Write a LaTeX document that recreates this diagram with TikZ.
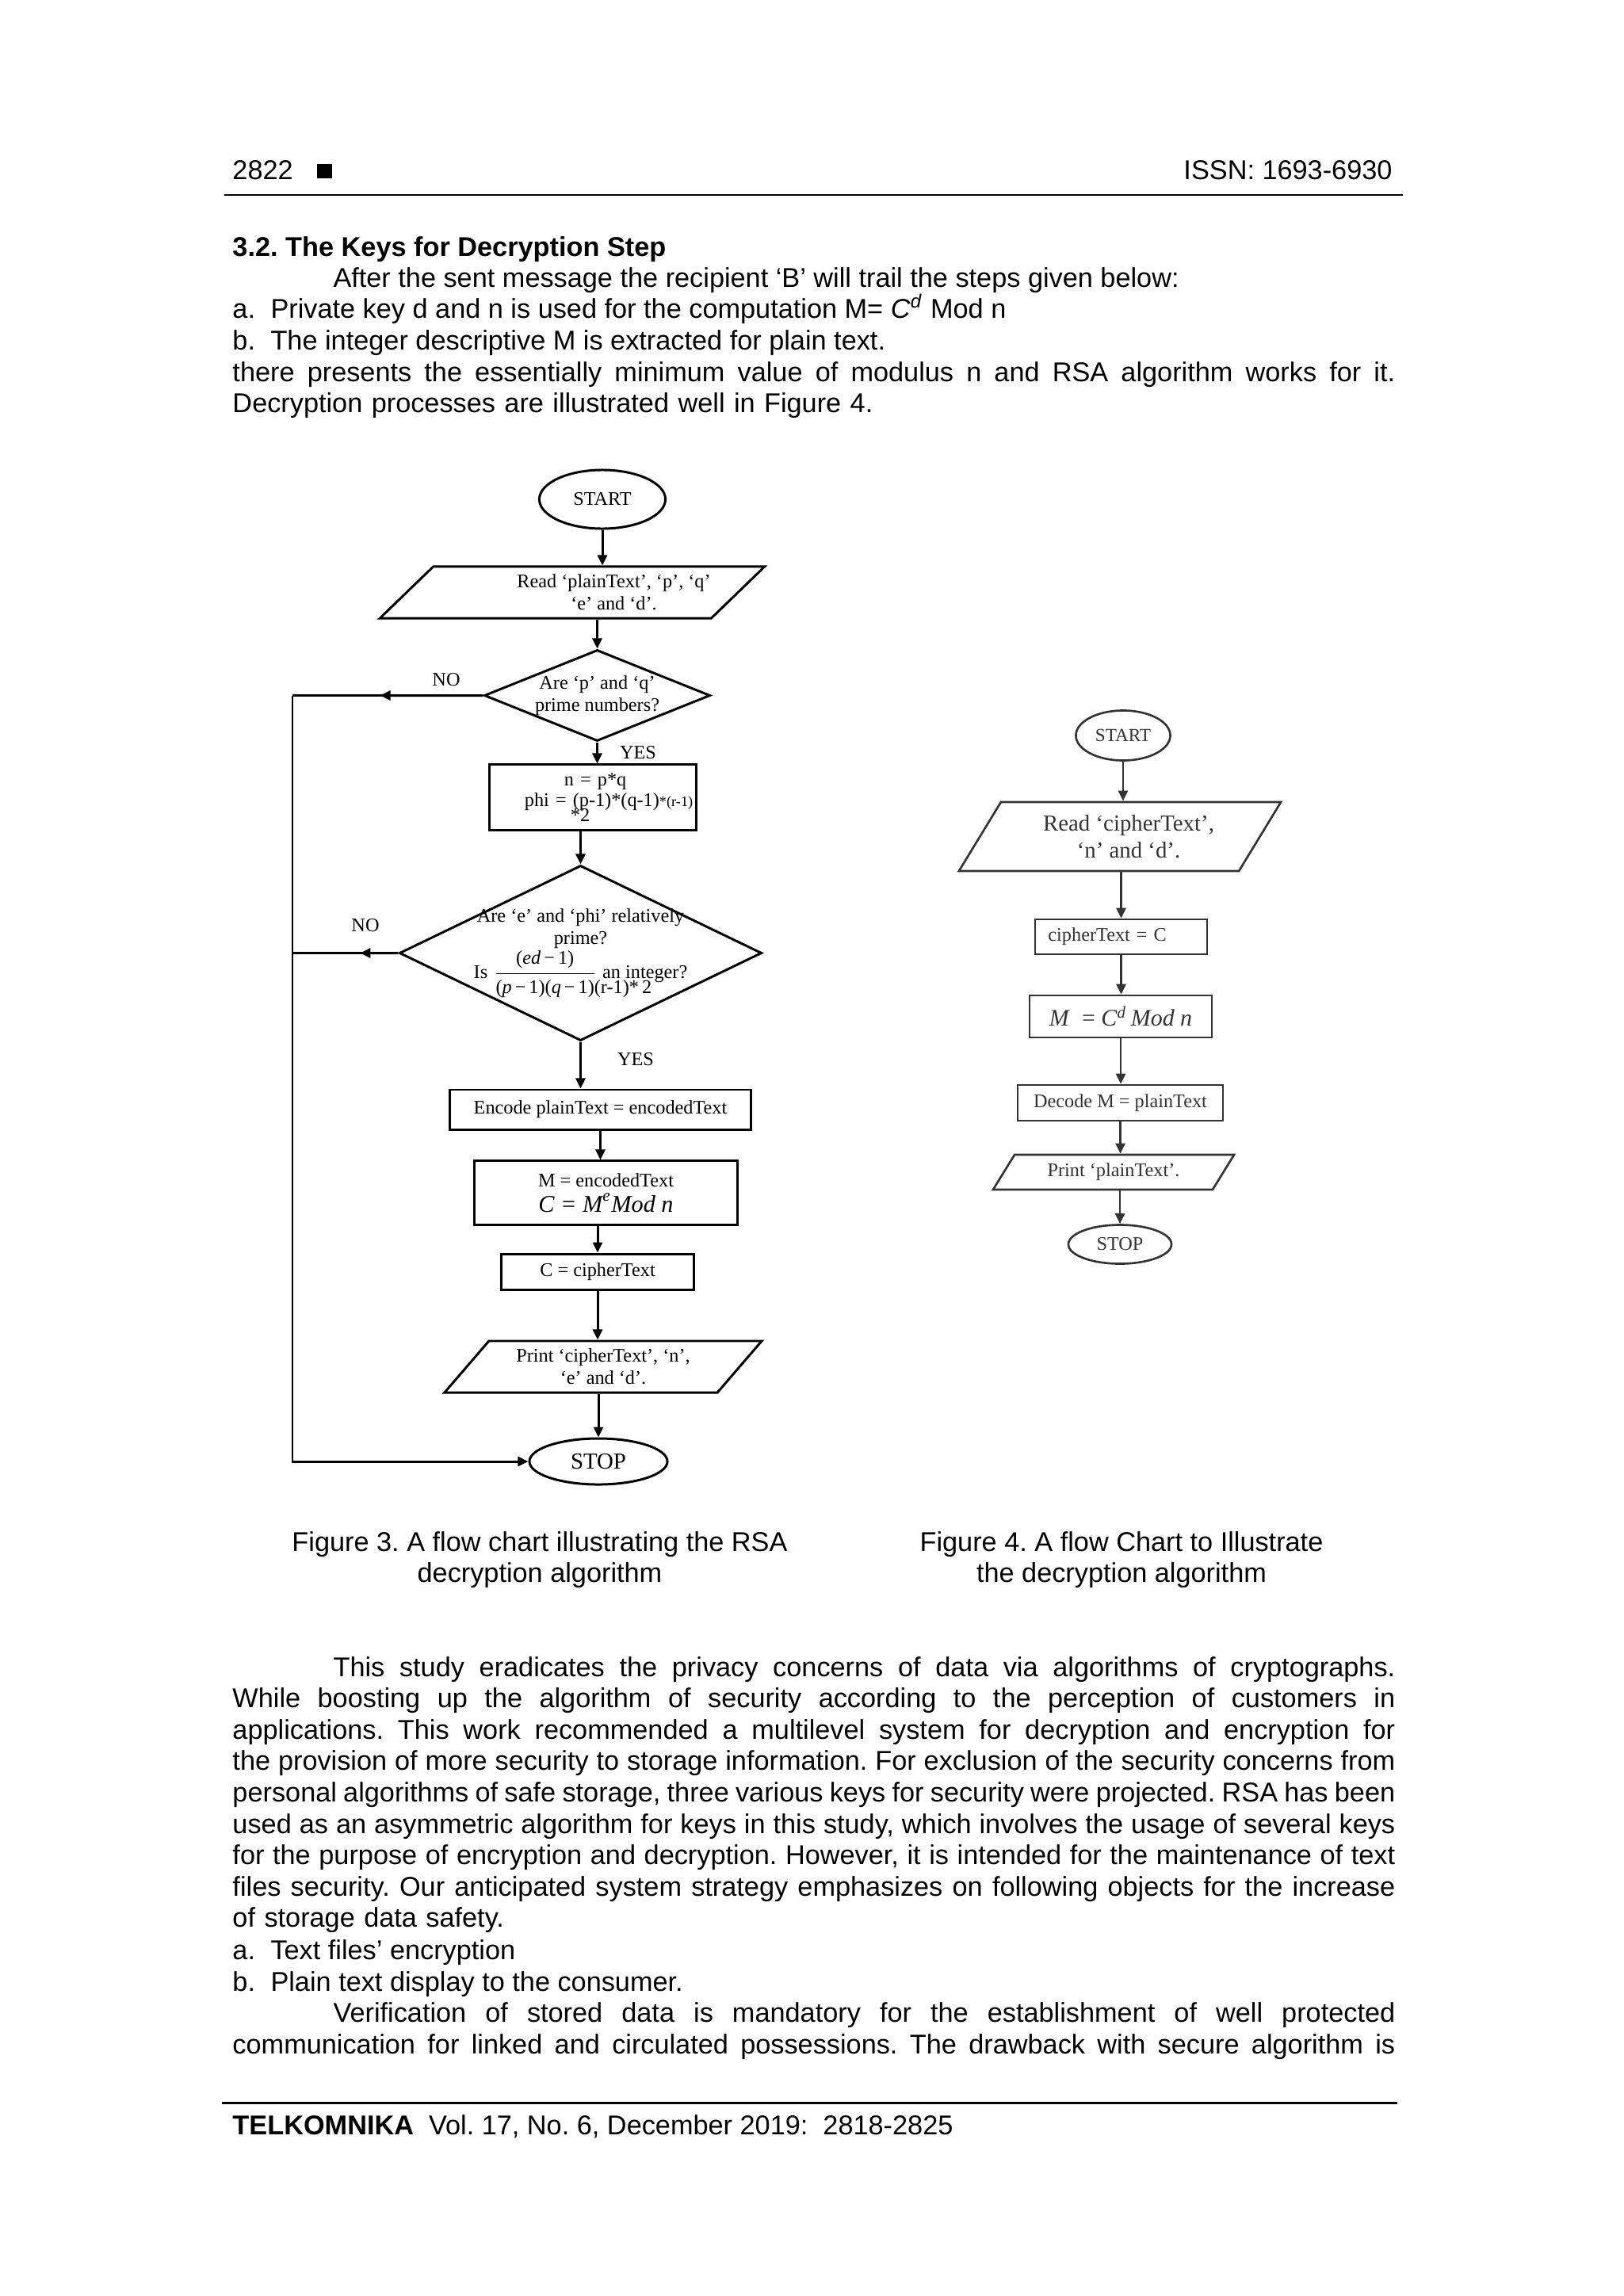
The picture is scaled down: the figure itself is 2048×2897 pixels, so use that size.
\documentclass[tikz,border=0pt]{standalone}
\usepackage{amsmath}
\usepackage{fontspec}
\setmainfont{Liberation Sans}
\newfontfamily\chartfont{Liberation Serif}
\usetikzlibrary{calc,shapes.geometric,arrows.meta}
\frenchspacing

\newcommand\bodysize{\fontsize{9.75pt}{11.26pt}\selectfont}
\newcommand\chartsize{\fontsize{6.9pt}{8pt}\selectfont}
\newcommand\fullline[1]{\hbox to 14.66cm{\spaceskip=0pt\xspaceskip=0pt #1}\par}
\newcommand\plainspace{\spaceskip=\fontdimen2\font\xspaceskip=\fontdimen2\font}

\tikzset{
  body/.style={anchor=base west, inner sep=0pt, font=\bodysize},
  term/.style={ellipse, draw, inner sep=0pt, font=\chartfont\chartsize},
  proc/.style={rectangle, draw, inner sep=0pt, font=\chartfont\chartsize},
  io/.style={trapezium, draw, trapezium stretches body=true, inner sep=0pt, align=center, font=\chartfont\chartsize},
  test/.style={diamond, draw, inner sep=0pt, align=center, font=\chartfont\chartsize},
  tag/.style={inner sep=0pt, font=\chartfont\chartsize},
}

\begin{document}
\begin{tikzpicture}[x=0.01cm, y=-0.01cm, line width=0.85pt, >={Triangle[length=0.13cm,width=0.12cm]}]
    \fill[white] (0,0) rectangle (2048,2897);
    \useasboundingbox (0,0) rectangle (2048,2897);

    % page head
    \node[body] (pageno) at (292,227) {2822};
    \fill (400,207) rectangle (419,225);
    \node[body, anchor=base east] (issn) at (1758,227) {ISSN: 1693-6930};
    \draw (283,246) -- (1770,246);

    % text above the figures
    \node[body, font=\bodysize\bfseries] (sec) at (292,323) {3.2. The Keys for Decryption Step};
    \node[body] (intro) at (419,362) {After the sent message the recipient ‘B’ will trail the steps given below:};
    \node[body] (stepa) at (292,401.7) {\makebox[0.48cm][l]{a.}Private key d and n is used for the computation M= \textit{C}\textsuperscript{\textit{d}} Mod n};
    \node[body] (stepb) at (292,441.4) {\makebox[0.48cm][l]{b.}The integer descriptive M is extracted for plain text.};
    \node[body, text width=14.66cm] (modtext) at (292,481.1) {%
      \fullline{there presents the essentially minimum value of modulus n and RSA algorithm works for it.}%
      \hbox{Decryption processes are illustrated well in Figure 4.}};

    % figure 3
    \node[term, minimum width=1.59cm, minimum height=0.74cm] (start3) at (760,630) {START};
    \node[io, trapezium left angle=34, trapezium right angle=146, minimum width=4.85cm, minimum height=0.65cm] (read3) at (722,747.5)
      {\hspace*{1.05cm}Read ‘plainText’, ‘p’, ‘q’\\\hspace*{1.05cm}‘e’ and ‘d’.};
    \node[test, minimum width=2.85cm, minimum height=1.15cm, aspect=2.48] (dec1) at (753.5,877.5) {Are ‘p’ and ‘q’\\prime numbers?};
    \node[proc, minimum width=2.60cm, minimum height=0.82cm, text width=2.6cm, align=left] (phi3) at (748,1006)
      {\mbox{\hspace*{0.94cm}n = p*q}\\[-0.6pt]\mbox{\hspace*{0.44cm}phi = (p-1)*(q-1){\fontsize{5.2pt}{6pt}\selectfont*(r-1)}}\\[-2.6pt]\mbox{\hspace*{1.02cm}*2}};
    \node[test, minimum width=4.57cm, minimum height=2.21cm, aspect=2.07, inner sep=-2.5pt] (dec2) at (732.5,1202.5)
      {Are ‘e’ and ‘phi’ relatively\\prime?\\Is $\dfrac{\text{(\textit{ed}\,−\,1)}}{\text{(\textit{p}\,−\,1)(\textit{q}\,−\,1)}\rlap{(r-1)*\,2}}$ an integer?};
    \node[proc, minimum width=3.79cm, minimum height=0.50cm] (enc3) at (757.5,1400) {Encode plainText = encodedText};
    \node[proc, minimum width=3.31cm, minimum height=0.80cm, align=center] (ciph3) at (764.5,1505)
      {M = encodedText\\[1pt]{\itshape\fontsize{8.6pt}{10pt}\selectfont C = M\textsuperscript{e}Mod n}};
    \node[proc, minimum width=2.42cm, minimum height=0.45cm] (out3) at (754,1604.5) {C = cipherText};
    \node[io, trapezium left angle=39, trapezium right angle=141, minimum width=4.00cm, minimum height=0.65cm] (print3) at (761,1724.5)
      {Print ‘cipherText’, ‘n’,\\‘e’ and ‘d’.};
    \node[term, minimum width=1.74cm, minimum height=0.58cm, font=\chartfont\fontsize{8.2pt}{9pt}\selectfont] (stop3) at (755,1844) {STOP};

    \draw[->] (start3.south) -- (start3.south |- read3.north);
    \draw[->] (dec1.north |- read3.south) -- (dec1.north);
    \draw[->] (dec1.south) -- (dec1.south |- phi3.north);
    \draw[->] (dec2.north |- phi3.south) -- (dec2.north);
    \draw[->] (dec2.south) -- (dec2.south |- enc3.north);
    \draw[->] (enc3.south) -- (enc3.south |- ciph3.north);
    \draw[->] (out3.north |- ciph3.south) -- (out3.north);
    \draw[->] (out3.south) -- (out3.south |- print3.north);
    \draw[->] (stop3.north |- print3.south) -- (stop3.north);

    % the two NO branches
    \coordinate (rail1) at (369,877.5);
    \coordinate (rail2) at (369,1202.5);
    \draw[->] (dec1.west) -- ($(dec1.west)!0.54!(rail1)$);
    \draw (dec1.west) -- (rail1);
    \draw[->] (dec2.west) -- ($(dec2.west)!0.36!(rail2)$);
    \draw (dec2.west) -- (rail2);
    \draw[->] (rail1) -- (rail1 |- stop3.west) -- (stop3.west);

    \node[tag] (no1) at (563,858) {NO};
    \node[tag] (yes1) at (805,950) {YES};
    \node[tag] (no2) at (461,1168) {NO};
    \node[tag] (yes2) at (802,1337) {YES};

    % figure 4
    \begin{scope}[black!80, line width=0.75pt]
    \node[term, minimum width=1.19cm, minimum height=0.63cm, font=\chartfont\fontsize{6.6pt}{8pt}\selectfont] (start4) at (1417,928) {START};
    \node[io, trapezium left angle=46, trapezium right angle=134, minimum width=4.06cm, minimum height=0.87cm, font=\chartfont\fontsize{8.2pt}{9.8pt}\selectfont] (read4) at (1413,1055.5)
      {\hspace*{0.22cm}Read ‘cipherText’,\\\hspace*{0.22cm}‘n’ and ‘d’.};
    \node[proc, minimum width=2.17cm, minimum height=0.44cm, text width=2.0cm, align=left] (in4) at (1414.5,1182) {\hspace*{0.08cm}cipherText = C};
    \node[proc, minimum width=2.30cm, minimum height=0.53cm, font=\chartfont\fontsize{8.5pt}{10pt}\selectfont] (powm4) at (1414,1282.5)
      {\textit{M}\enspace= \textit{C}\textsuperscript{\textit{d}}\,\textit{Mod n}};
    \node[proc, minimum width=2.59cm, minimum height=0.45cm] (plain4) at (1413.5,1391.5) {Decode M = plainText};
    \node[io, trapezium left angle=39, trapezium right angle=141, minimum width=3.04cm, minimum height=0.44cm] (print4) at (1405,1479) {Print ‘plainText’.};
    \node[term, minimum width=1.30cm, minimum height=0.49cm] (stop4) at (1413,1570) {STOP};

    \draw[->] (start4.south) -- (start4.south |- read4.north);
    \draw[->] (in4.north |- read4.south) -- (in4.north);
    \draw[->] (in4.south) -- (in4.south |- powm4.north);
    \draw[->] (powm4.south) -- (powm4.south |- plain4.north);
    \draw[->] (plain4.south) -- (plain4.south |- print4.north);
    \draw[->] (stop4.north |- print4.south) -- (stop4.north);
    \end{scope}

    % captions
    \node[body, anchor=base, text width=7cm, align=center] (cap3) at (681,1957) {\plainspace Figure 3. A flow chart illustrating the RSA\\decryption algorithm};
    \node[body, anchor=base, text width=6cm, align=center] (cap4) at (1415,1957) {\plainspace Figure 4. A flow Chart to Illustrate\\the decryption algorithm};

    % text below the figures
    \node[body, text width=14.66cm] (study) at (292,2115) {%
      \fullline{\hspace*{1.27cm}This study eradicates the privacy concerns of data via algorithms of cryptographs.}%
      \fullline{While boosting up the algorithm of security according to the perception of customers in}%
      \fullline{applications. This work recommended a multilevel system for decryption and encryption for}%
      \fullline{the provision of more security to storage information. For exclusion of the security concerns from}%
      \fullline{personal algorithms of safe storage, three various keys for security were projected. RSA has been}%
      \fullline{used as an asymmetric algorithm for keys in this study, which involves the usage of several keys}%
      \fullline{for the purpose of encryption and decryption. However, it is intended for the maintenance of text}%
      \fullline{files security. Our anticipated system strategy emphasizes on following objects for the increase}%
      \hbox{of storage data safety.}};
    \node[body] (obja) at (292,2472.3) {\makebox[0.48cm][l]{a.}Text files’ encryption};
    \node[body] (objb) at (292,2512) {\makebox[0.48cm][l]{b.}Plain text display to the consumer.};
    \node[body, text width=14.66cm] (verify) at (292,2551.7) {%
      \fullline{\hspace*{1.27cm}Verification of stored data is mandatory for the establishment of well protected}%
      \fullline{communication for linked and circulated possessions. The drawback with secure algorithm is}};

    % page foot
    \draw (280,2653) -- (1763,2653);
    \node[body] (foot) at (292,2693) {\textbf{TELKOMNIKA}\ \ Vol. 17, No. 6, December 2019:\ \ 2818-2825};
\end{tikzpicture}
\end{document}
